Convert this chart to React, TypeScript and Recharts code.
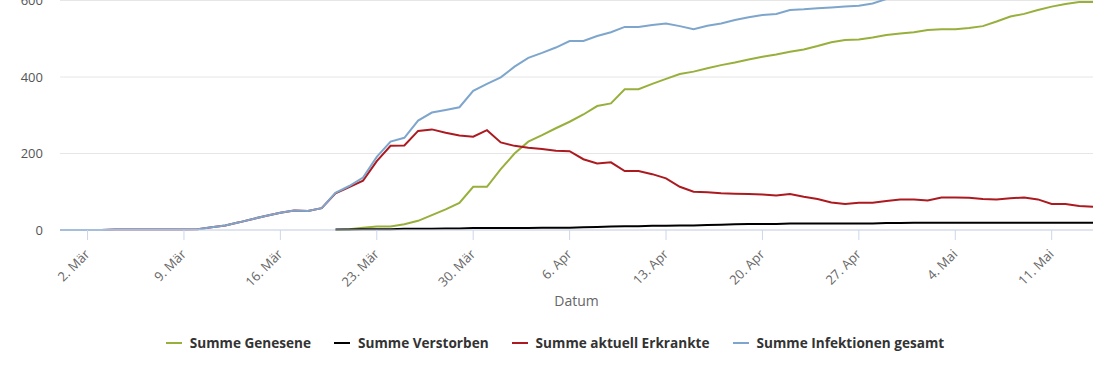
import React from "react";
import {
  LineChart,
  Line,
  XAxis,
  YAxis,
  CartesianGrid,
  Legend,
} from "recharts";

// one label per day, 29. Feb .. 14. Mai
const dates = [
  "29. Feb",
  "1. Mär", "2. Mär", "3. Mär", "4. Mär", "5. Mär", "6. Mär", "7. Mär", "8. Mär", "9. Mär", "10. Mär",
  "11. Mär", "12. Mär", "13. Mär", "14. Mär", "15. Mär", "16. Mär", "17. Mär", "18. Mär", "19. Mär", "20. Mär",
  "21. Mär", "22. Mär", "23. Mär", "24. Mär", "25. Mär", "26. Mär", "27. Mär", "28. Mär", "29. Mär", "30. Mär", "31. Mär",
  "1. Apr", "2. Apr", "3. Apr", "4. Apr", "5. Apr", "6. Apr", "7. Apr", "8. Apr", "9. Apr", "10. Apr",
  "11. Apr", "12. Apr", "13. Apr", "14. Apr", "15. Apr", "16. Apr", "17. Apr", "18. Apr", "19. Apr", "20. Apr",
  "21. Apr", "22. Apr", "23. Apr", "24. Apr", "25. Apr", "26. Apr", "27. Apr", "28. Apr", "29. Apr", "30. Apr",
  "1. Mai", "2. Mai", "3. Mai", "4. Mai", "5. Mai", "6. Mai", "7. Mai", "8. Mai", "9. Mai", "10. Mai",
  "11. Mai", "12. Mai", "13. Mai", "14. Mai",
];

const tickLabels = ["2. Mär", "9. Mär", "16. Mär", "23. Mär", "30. Mär", "6. Apr", "13. Apr", "20. Apr", "27. Apr", "4. Mai", "11. Mai"];
const yTicks = [0, 200, 400, 600, 800];

// nothing reported before 20. Mär
const genesene = [
  null, null, null, null, null, null, null, null, null, null,
  null, null, null, null, null, null, null, null, null, null,
  0, 2, 6, 9, 9, 15, 24, 39, 54, 71,
  113, 113, 159, 200, 231, 248, 266, 283, 302, 324,
  331, 368, 368, 382, 395, 408, 414, 423, 431, 438,
  446, 453, 459, 466, 472, 481, 491, 497, 498, 503,
  510, 514, 517, 523, 525, 525, 528, 533, 545, 558,
  565, 575, 584, 591, 596, 596,
];

const verstorben = [
  null, null, null, null, null, null, null, null, null, null,
  null, null, null, null, null, null, null, null, null, null,
  1, 1, 2, 2, 2, 3, 3, 3, 4, 4,
  5, 5, 5, 5, 5, 6, 6, 6, 7, 8,
  9, 10, 10, 11, 11, 12, 12, 13, 14, 15,
  16, 16, 16, 17, 17, 17, 17, 17, 17, 17,
  18, 18, 19, 19, 19, 19, 19, 19, 19, 19,
  19, 19, 19, 19, 19, 19,
];

const erkrankte = [
  0, 0, 0, 0, 1, 1, 1, 1, 1, 1,
  2, 7, 12, 20, 29, 37, 45, 51, 50, 57,
  96, 112, 129, 180, 220, 221, 259, 263, 254, 247,
  244, 261, 229, 220, 215, 212, 207, 206, 185, 174,
  177, 154, 154, 146, 135, 113, 100, 99, 96, 95,
  94, 93, 90, 94, 87, 81, 72, 68, 71, 71,
  76, 80, 80, 77, 85, 85, 84, 81, 80, 83,
  85, 80, 68, 68, 63, 61,
];

const infektionen = [
  0, 0, 0, 0, 1, 1, 1, 1, 1, 1,
  2, 7, 12, 20, 29, 37, 45, 51, 50, 57,
  97, 115, 137, 191, 231, 241, 286, 307, 314, 321,
  364, 382, 399, 427, 450, 463, 477, 494, 494, 507,
  517, 531, 531, 536, 540, 533, 525, 534, 540, 549,
  556, 562, 565, 575, 577, 580, 582, 584, 586, 592,
  604, 612, 616, 619, 629, 629, 631, 633, 644, 660,
  669, 674, 671, 678, 678, 676,
];

const series = [
  { key: "genesene", name: "Summe Genesene", color: "#97b03c" },
  { key: "verstorben", name: "Summe Verstorben", color: "#000000" },
  { key: "erkrankte", name: "Summe aktuell Erkrankte", color: "#ac1a20" },
  { key: "infektionen", name: "Summe Infektionen gesamt", color: "#7ea6cd" },
];

const chartData = dates.map((date, i) => ({
  date,
  genesene: genesene[i],
  verstorben: verstorben[i],
  erkrankte: erkrankte[i],
  infektionen: infektionen[i],
}));

function DateTick({ x, y, payload }: any) {
  return (
    <g transform={`translate(${x + 3},${y + 15}) rotate(-45)`}>
      <text textAnchor="end" fill="#666" fontSize={13}>
        {payload.value}
      </text>
    </g>
  );
}

function LegendRow() {
  return (
    <div
      style={{
        display: "flex",
        justifyContent: "center",
        alignItems: "flex-start",
        height: 40,
        fontSize: 13.6,
        fontWeight: 700,
        color: "#333",
      }}
    >
      {series.map((s, i) => (
        <span
          key={s.key}
          style={{ display: "flex", alignItems: "center", height: 25, marginLeft: i ? 23 : 0 }}
        >
          <span style={{ width: 16, height: 2, background: s.color, marginRight: 8 }} />
          {s.name}
        </span>
      ))}
    </div>
  );
}

export default function App() {
  // the top of the chart sits above the page, like the cropped original
  return (
    <div
      style={{
        position: "absolute",
        top: -96,
        left: 0,
        width: 1110,
        height: 466,
        background: "#fff",
        fontFamily: "'Open Sans', sans-serif",
      }}
    >
      <LineChart
        width={1110}
        height={466}
        data={chartData}
        margin={{ top: 20, right: 17, left: 0, bottom: 0 }}
      >
        <CartesianGrid vertical={false} stroke="#e6e6e6" />
        <XAxis
          dataKey="date"
          ticks={tickLabels}
          interval={0}
          height={100}
          tickSize={10}
          tickMargin={0}
          stroke="#ccd6eb"
          tick={<DateTick />}
          label={{ value: "Datum", position: "insideBottom", offset: 24, fill: "#666", fontSize: 14 }}
        />
        <YAxis
          domain={[0, 800]}
          ticks={yTicks}
          width={60}
          axisLine={false}
          tickLine={false}
          tickMargin={11}
          tick={{ fill: "#555", fontSize: 13 }}
        />
        <Legend
          verticalAlign="bottom"
          content={() => <LegendRow />}
          wrapperStyle={{ left: 0, width: 1110 }}
        />
        {series.map((s) => (
          <Line
            key={s.key}
            type="linear"
            dataKey={s.key}
            name={s.name}
            stroke={s.color}
            strokeWidth={2}
            dot={false}
            activeDot={false}
            isAnimationActive={false}
          />
        ))}
      </LineChart>
    </div>
  );
}
